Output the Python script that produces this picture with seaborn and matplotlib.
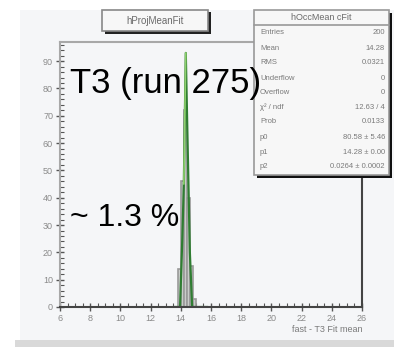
import matplotlib
matplotlib.use("Agg")
import matplotlib.pyplot as plt
from matplotlib.patches import Rectangle
from matplotlib.ticker import MultipleLocator
import numpy as np
import pandas as pd
import seaborn as sns

# Histogram of fitted mean values (bins of 0.2)
bin_edges = [13.8, 14.0, 14.2, 14.4, 14.6, 14.8, 15.0]
bin_counts = [14, 46, 72, 40, 15, 3]

# Fit curve drawn over the histogram
fit_x = [13.5, 13.95, 14.1, 14.2, 14.33, 14.45, 14.6, 14.75, 15.8]
fit_y = [0, 0, 25, 45, 93, 60, 20, 0, 0]

x_ticks = [6, 8, 10, 12, 14, 16, 18, 20, 22, 24, 26]
y_ticks = [0, 10, 20, 30, 40, 50, 60, 70, 80, 90]

stats_rows = [
    ("Entries", "200"),
    ("Mean", "14.28"),
    ("RMS", "0.0321"),
    ("Underflow", "0"),
    ("Overflow", "0"),
    ("\u03c7\u00b2 / ndf", "12.63 / 4"),
    ("Prob", "0.0133"),
    ("p0", "80.58 \u00b1 5.46"),
    ("p1", "14.28 \u00b1 0.00"),
    ("p2", "0.0264 \u00b1 0.0002"),
]

sns.set_theme(style="white")
plt.rcParams["font.family"] = ["Liberation Sans", "DejaVu Sans"]

W, H = 394, 347
fig = plt.figure(figsize=(W / 100, H / 100), dpi=100)
fig.patch.set_facecolor("white")

# Canvas background and bottom band
fig.add_artist(Rectangle((20 / W, 7 / H), 1 - 20 / W, 330 / H, transform=fig.transFigure,
                         facecolor="#f5f6f8", edgecolor="none", zorder=-10))
fig.add_artist(Rectangle((15 / W, 0), 1 - 15 / W, 7 / H, transform=fig.transFigure,
                         facecolor="#d9d9d9", edgecolor="none", zorder=-10))

ax = fig.add_axes([60 / W, 1 - 307 / H, (362 - 60) / W, (307 - 42) / H])
ax.set_facecolor("#f5f6f8")

df = pd.DataFrame({
    "center": [(a + b) / 2 for a, b in zip(bin_edges[:-1], bin_edges[1:])],
    "count": bin_counts,
})
sns.histplot(data=df, x="center", weights="count", bins=bin_edges, ax=ax,
             color="#c9ccc9", edgecolor="#9a9a9a", linewidth=1.2, alpha=1.0)
sns.lineplot(x=fit_x, y=fit_y, ax=ax, color="#2f7d32", linewidth=1.6, sort=False)
# lighter highlight on the upper part of the rising edge
sns.lineplot(x=fit_x[3:5], y=fit_y[3:5], ax=ax, color="#8fd06f", linewidth=1.2, sort=False)

ax.set_xlim(6, 26)
ax.set_ylim(0, 97)
ax.set_xticks(x_ticks)
ax.set_yticks(y_ticks)
ax.xaxis.set_minor_locator(MultipleLocator(0.5))
ax.yaxis.set_minor_locator(MultipleLocator(2))
ax.tick_params(axis="both", which="major", direction="inout", length=6, width=1,
               color="#555555", labelsize=6.5, labelcolor="#8a8a8a", pad=2)
ax.tick_params(axis="both", which="minor", direction="in", length=3, width=0.8,
               color="#555555")
ax.tick_params(axis="x", bottom=True, which="both")
ax.tick_params(axis="y", left=True, which="both")
ax.set_xlabel("")
ax.set_ylabel("")
for side in ("top", "left"):
    ax.spines[side].set_color("#a8a8a8")
    ax.spines[side].set_linewidth(1.5)
for side in ("bottom", "right"):
    ax.spines[side].set_color("#444444")
    ax.spines[side].set_linewidth(1.5)

fig.text(363 / W, 1 - 330 / H, "fast - T3 Fit mean", ha="right", va="center",
         fontsize=6.5, color="#7a7a7a")

# Title box
fig.add_artist(Rectangle((105 / W, 1 - 34 / H), 106 / W, 22 / H, transform=fig.transFigure,
                         facecolor="#222222", edgecolor="none", zorder=3))
fig.add_artist(Rectangle((102 / W, 1 - 31 / H), 106 / W, 21 / H, transform=fig.transFigure,
                         facecolor="#f7f7f7", edgecolor="#888888", linewidth=1.2, zorder=4))
fig.text(155 / W, 1 - 20.5 / H, "hProjMeanFit", ha="center", va="center",
         fontsize=7, color="#6a6a6a", zorder=5)

# Statistics box
bx0, bx1, by0, by1 = 254, 389, 10, 175
fig.add_artist(Rectangle(((bx0 + 3) / W, 1 - (by1 + 3) / H), (bx1 - bx0) / W, (by1 - by0) / H,
                         transform=fig.transFigure, facecolor="#111111", edgecolor="none",
                         zorder=3))
fig.add_artist(Rectangle((bx0 / W, 1 - by1 / H), (bx1 - bx0) / W, (by1 - by0) / H,
                         transform=fig.transFigure, facecolor="#f7f7f7", edgecolor="#999999",
                         linewidth=1.2, zorder=4))
fig.add_artist(plt.Line2D([bx0 / W, bx1 / W], [1 - 25 / H, 1 - 25 / H],
                          transform=fig.transFigure, color="#999999", linewidth=1.2, zorder=5))
fig.text((bx0 + bx1) / 2 / W, 1 - 17 / H, "hOccMean cFit", ha="center", va="center",
         fontsize=6.5, color="#6a6a6a", zorder=6)
row_y = [33, 48, 63, 79, 93, 107, 122, 137, 152, 167]
for (name, val), yy in zip(stats_rows, row_y):
    fig.text((bx0 + 6) / W, 1 - yy / H, name, ha="left", va="center",
             fontsize=5.5, color="#7a7a7a", zorder=6)
    fig.text((bx1 - 4) / W, 1 - yy / H, val, ha="right", va="center",
             fontsize=5.5, color="#7a7a7a", zorder=6)

# Annotations drawn on top of everything
fig.text(70 / W, 1 - 84 / H, "T3 (run 275)", fontsize=25, color="black",
         ha="left", va="center", zorder=8)
fig.text(70 / W, 1 - 218 / H, "~ 1.3 %", fontsize=23, color="black",
         ha="left", va="center", zorder=8)

fig.savefig("out.png", dpi=100)
